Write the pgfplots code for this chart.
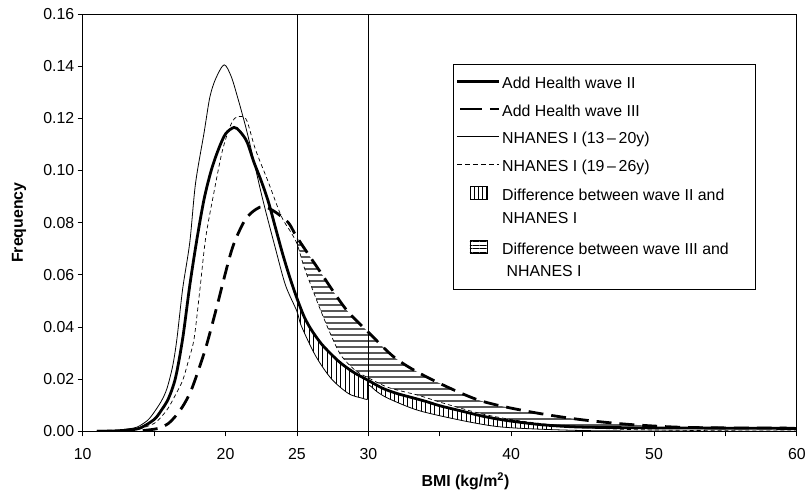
\documentclass[border=0pt]{standalone}
\usepackage{fontspec}
\setmainfont{Liberation Sans}
\usepackage{pgfplots}
\pgfplotsset{compat=1.18}
\usepgfplotslibrary{fillbetween}
\usetikzlibrary{patterns,patterns.meta}
\newcommand{\legone}[1]{\fontsize{16}{23}\selectfont\hbox to 250bp{\strut #1\hfil}}
\newcommand{\legtwo}[2]{\fontsize{16}{23}\selectfont\vbox{\hbox to 250bp{\strut #1\hfil}\hbox to 250bp{\strut #2\hfil}}}

\begin{document}
\begin{tikzpicture}
\begin{axis}[
  scale only axis, width=717bp, height=419bp,
  xmin=10, xmax=60, ymin=0, ymax=0.16,
  xtick={10,15,...,60}, xticklabels={10,,20,25,30,,40,,50,,60},
  ytick={0,0.02,0.04,0.06,0.08,0.10,0.12,0.14,0.16},
  /pgf/number format/assume math mode=true,
  yticklabel style={/pgf/number format/.cd, fixed, fixed zerofill, precision=2},
  xticklabel style={yshift=-9bp},
  tick label style={font=\fontsize{16}{19}\selectfont},
  tick align=outside, major tick length=5bp,
  tick style={black, line width=0.8bp},
  xtick pos=bottom, ytick pos=left,
  axis line style={line width=0.8bp},
  xlabel={BMI (kg/m\textsuperscript{2})},
  ylabel={Frequency},
  label style={font=\fontsize{16}{19}\selectfont\bfseries},
  x label style={at={(axis description cs:0.536,-0.12)}, anchor=center},
  y label style={at={(axis description cs:-0.089,0.5)}, anchor=center},
  legend style={at={(axis description cs:0.519,0.881)}, anchor=north west,
    draw=black, line width=0.6bp, row sep=8bp,
    cells={anchor=west}, nodes={inner ysep=1bp}, inner xsep=2bp, inner ysep=8bp},
  legend image code/.code={\draw[#1] (0bp,0bp) -- (42bp,0bp);},
]
% reference lines
\addplot[black, line width=0.8bp, forget plot] coordinates {(25,0) (25,0.16)};
\addplot[black, line width=0.8bp, forget plot] coordinates {(30,0) (30,0.16)};

% NHANES I (13-20y)
\addplot[black, line width=0.8bp, smooth, tension=0.5, name path=n1, forget plot] coordinates {
(11,0)(12,0.0002)(13,0.0008)(13.8,0.0016)(14.5,0.004)(14.9,0.0065)(15.5,0.0115)(15.9,0.0164)
(16.3,0.025)(16.6,0.0355)(17,0.0546)(17.5,0.0725)(17.9,0.095)(18.5,0.1145)(18.9,0.128)
(19.3,0.135)(19.9,0.1405)(20.4,0.136)(20.9,0.127)(21.4,0.117)(21.8,0.108)(22.6,0.089)
(23.5,0.070)(24.2,0.056)(25,0.046)(25.3,0.0405)(26.3,0.029)(27.4,0.0202)(28.6,0.0145)
(29.5,0.0128)(29.98,0.0125)(30.02,0.0176)(30.6,0.0152)(31.4,0.0126)(33.5,0.008)(36.5,0.0042)
(38.9,0.0019)(41.2,0.001)(45,0.0003)(50,0.0001)(60,0)};

% NHANES I (19-26y)
\addplot[black, line width=0.7bp, dash pattern=on 4bp off 3bp, smooth, tension=0.5, name path=n2, forget plot] coordinates {
(11,0)(12,0.0001)(13,0.0005)(14,0.001)(15,0.003)(15.5,0.0055)(16,0.009)(16.5,0.014)
(17,0.0195)(17.4,0.027)(17.8,0.0355)(18.2,0.054)(18.6,0.0737)(19.1,0.089)(19.8,0.108)
(20.5,0.119)(21.1,0.1207)(21.5,0.119)(22.1,0.108)(23.0,0.0955)(23.9,0.0825)(24.5,0.077)
(25,0.072)(25.5,0.063)(26,0.0557)(26.7,0.0458)(27.4,0.0367)(28.1,0.029)(29.1,0.0233)
(30,0.0205)(31.4,0.0168)(33.5,0.0138)(35,0.0112)(36.5,0.0088)(38,0.0066)(40,0.0045)
(42,0.003)(43.5,0.0022)(45,0.0015)(47,0.0009)(50,0.0005)(55,0.0002)(60,0.0001)};

% Add Health wave II
\addplot[black, line width=2.8bp, smooth, tension=0.5, name path=w2, forget plot] coordinates {
(11,0)(12,0.0001)(13,0.0004)(14,0.0012)(15,0.0045)(15.5,0.008)(16,0.0125)(16.5,0.0205)
(17,0.0355)(17.5,0.056)(18,0.0737)(18.5,0.089)(19,0.1)(19.5,0.108)(20,0.114)(20.6,0.1165)
(21,0.115)(21.5,0.111)(22,0.103)(22.5,0.096)(23,0.088)(23.5,0.078)(24,0.068)(24.5,0.059)
(25,0.051)(25.5,0.044)(26,0.039)(26.7,0.0336)(27.5,0.029)(28.1,0.026)(29,0.0225)(30,0.0195)
(31,0.0165)(32,0.0145)(33,0.013)(34,0.0115)(35,0.0098)(36.5,0.0078)(38,0.0058)(39.5,0.0043)
(41,0.0032)(42.6,0.0023)(45,0.0016)(50,0.0013)(55,0.0012)(60,0.0011)};

% Add Health wave III
\addplot[black, line width=2.8bp, dash pattern=on 15bp off 8bp, smooth, tension=0.5, name path=w3, forget plot] coordinates {
(11,0)(13,0)(14,0.0002)(15,0.0008)(15.5,0.0015)(16,0.003)(16.5,0.0058)(17,0.0095)
(17.5,0.0145)(17.9,0.0202)(18.6,0.0317)(19.3,0.0458)(20.25,0.066)(20.7,0.0735)(21.4,0.0813)
(22.1,0.085)(22.7,0.0862)(23.5,0.084)(24.4,0.080)(25,0.0744)(26.5,0.0622)(28.4,0.047)
(30,0.038)(31.9,0.028)(34.2,0.0205)(37.7,0.012)(41.2,0.0076)(44.7,0.0046)(48.1,0.0027)
(51.6,0.0016)(55,0.0013)(60,0.0012)};

% hatched differences
\addplot[pattern={Lines[angle=90,distance=4.5bp,line width=0.9bp]}, pattern color=black, draw=none, forget plot]
  fill between[of=w2 and n1, soft clip={domain=25:43}];
\addplot[pattern={Lines[angle=0,distance=6bp,line width=1.1bp]}, pattern color=black, draw=none, forget plot]
  fill between[of=w3 and n2, soft clip={domain=25:50}];

% legend
\addlegendimage{black, line width=2.8bp}
\addlegendentry{\legone{Add Health wave II}}
\addlegendimage{legend image code/.code={\draw[black, line width=2.8bp] (3bp,0bp) -- (25bp,0bp); \draw[black, line width=2.8bp] (33bp,0bp) -- (42bp,0bp);}}
\addlegendentry{\legone{Add Health wave III}}
\addlegendimage{black, line width=0.8bp}
\addlegendentry{\legone{NHANES I (13\,–\,20y)}}
\addlegendimage{black, line width=0.7bp, dash pattern=on 5bp off 3bp}
\addlegendentry{\legone{NHANES I (19\,–\,26y)}}
\addlegendimage{legend image code/.code={\path[draw=none,fill=none] (0bp,-23bp) -- (0bp,23bp); \draw[black, line width=0.7bp, pattern={Lines[angle=90,distance=4bp,line width=0.8bp]}, pattern color=black] (13bp,5bp) rectangle (30bp,18bp);}}
\addlegendentry{\legtwo{Difference between wave II and}{NHANES I}}
\addlegendimage{legend image code/.code={\path[draw=none,fill=none] (0bp,-23bp) -- (0bp,23bp); \draw[black, line width=0.7bp, pattern={Lines[angle=0,distance=3.5bp,line width=0.8bp]}, pattern color=black] (13bp,5bp) rectangle (30bp,18bp);}}
\addlegendentry{\legtwo{Difference between wave III and}{\ NHANES I}}
\end{axis}
\path (-83bp,-65bp) rectangle (726bp,433bp);
\end{tikzpicture}
\end{document}
